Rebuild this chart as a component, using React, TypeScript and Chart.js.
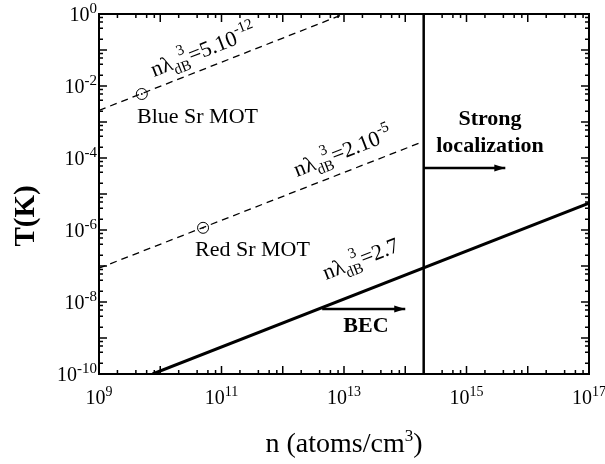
import React, { useEffect, useRef } from "react";
import { Chart, registerables } from "chart.js";

Chart.register(...registerables);

// ---------- data ----------
const X_MIN = 1e9;
const X_MAX = 1e17;
const Y_MIN = 1e-10;
const Y_MAX = 1;

const xTickExponents = [9, 11, 13, 15, 17];
const yTickExponents = [0, -2, -4, -6, -8, -10];
const xDecades = [9, 10, 11, 12, 13, 14, 15, 16, 17];
const yDecades = [-10, -9, -8, -7, -6, -5, -4, -3, -2, -1, 0];
const minorMultipliers = [2, 4, 6, 8];

// nλ³ = 5·10⁻¹² (dashed)
const blueMotLine = [
  { x: 1e9, y: 2.1e-3 },
  { x: 1e13, y: 1.0 },
];
// nλ³ = 2·10⁻⁵ (dashed)
const redMotLine = [
  { x: 1e9, y: 8.7e-8 },
  { x: 2e14, y: 2.9e-4 },
];
// nλ³ = 2.7 (solid)
const becLine = [
  { x: 7.5e9, y: 1e-10 },
  { x: 1e17, y: 5.6e-6 },
];
// strong localization threshold
const localizationLine = [
  { x: 2e14, y: 1e-10 },
  { x: 2e14, y: 1 },
];
const motPoints = [
  { x: 5e9, y: 6e-3 },
  { x: 5e10, y: 1.15e-6 },
];
const localizationArrow = [
  { x: 2e14, y: 5.3e-5 },
  { x: 4.3e15, y: 5.3e-5 },
];
const becArrow = [
  { x: 4.4e12, y: 6.4e-9 },
  { x: 1e14, y: 6.4e-9 },
];

const pointLabels = ["Blue Sr MOT", "Red Sr MOT"];
const pointLabelAnchors = [
  { x: 10 ** 9.62, y: 10 ** -3.03 },
  { x: 10 ** 10.567, y: 10 ** -6.72 },
];
const lineLabelValues = ["5.10", "2.10", "2.7"];
const lineLabelExponents = ["-12", "-5", ""];
const lineLabelAnchors = [
  { x: 10 ** 9.898, y: 10 ** -1.75 },
  { x: 10 ** 12.233, y: 10 ** -4.528 },
  { x: 10 ** 12.706, y: 10 ** -7.389 },
];
const regionLabels = ["Strong", "localization", "BEC"];
const regionLabelAnchors = [
  { x: 10 ** 15.384, y: 10 ** -3.083 },
  { x: 10 ** 15.384, y: 10 ** -3.833 },
  { x: 10 ** 13.359, y: 10 ** -8.833 },
];

const SERIF = '"Liberation Serif", "Times New Roman", serif';

function drawPow(
  ctx: CanvasRenderingContext2D,
  x: number,
  y: number,
  exp: number,
  align: "center" | "right",
  baseSize: number,
  expSize: number,
  rise: number
) {
  const es = String(exp);
  ctx.font = `${baseSize}px ${SERIF}`;
  const bw = ctx.measureText("10").width;
  ctx.font = `${expSize}px ${SERIF}`;
  const ew = ctx.measureText(es).width;
  const total = bw + ew;
  const sx = align === "center" ? x - total / 2 : x - total;
  ctx.textAlign = "left";
  ctx.textBaseline = "alphabetic";
  ctx.font = `${baseSize}px ${SERIF}`;
  ctx.fillText("10", sx, y);
  ctx.font = `${expSize}px ${SERIF}`;
  ctx.fillText(es, sx + bw, y - rise);
}

function drawDbLabel(
  ctx: CanvasRenderingContext2D,
  x: number,
  y: number,
  angle: number,
  value: string,
  exp: string
) {
  const big = `22px ${SERIF}`;
  const small = `15px ${SERIF}`;
  ctx.save();
  ctx.translate(x, y);
  ctx.rotate(angle);
  ctx.textAlign = "left";
  ctx.textBaseline = "alphabetic";
  ctx.fillStyle = "#000";
  let cx = 0;
  ctx.font = big;
  ctx.fillText("nλ", cx, 0);
  cx += ctx.measureText("nλ").width;
  ctx.font = small;
  const dbw = ctx.measureText("dB").width;
  ctx.fillText("dB", cx, 6);
  ctx.fillText("3", cx + dbw * 0.5, -11);
  cx += dbw + 1;
  ctx.font = big;
  const vt = "=" + value;
  ctx.fillText(vt, cx, 0);
  cx += ctx.measureText(vt).width;
  if (exp) {
    ctx.font = small;
    ctx.fillText(exp, cx, -10);
  }
  ctx.restore();
}

const framePlugin = {
  id: "framePlugin",
  afterDraw(chart: any) {
    const ctx: CanvasRenderingContext2D = chart.ctx;
    const { left, right, top, bottom } = chart.chartArea;
    const xs = chart.scales.x;
    const ys = chart.scales.y;
    ctx.save();
    ctx.strokeStyle = "#000";
    ctx.fillStyle = "#000";

    // ticks
    ctx.lineWidth = 1.5;
    ctx.beginPath();
    xDecades.forEach((k) => {
      const px = xs.getPixelForValue(10 ** k);
      ctx.moveTo(px, bottom);
      ctx.lineTo(px, bottom - 8);
      ctx.moveTo(px, top);
      ctx.lineTo(px, top + 8);
      if (k < 17) {
        minorMultipliers.forEach((m) => {
          const mx = xs.getPixelForValue(m * 10 ** k);
          ctx.moveTo(mx, bottom);
          ctx.lineTo(mx, bottom - 4);
          ctx.moveTo(mx, top);
          ctx.lineTo(mx, top + 4);
        });
      }
    });
    yDecades.forEach((k) => {
      const py = ys.getPixelForValue(10 ** k);
      ctx.moveTo(left, py);
      ctx.lineTo(left + 8, py);
      ctx.moveTo(right, py);
      ctx.lineTo(right - 8, py);
      if (k < 0) {
        minorMultipliers.forEach((m) => {
          const my = ys.getPixelForValue(m * 10 ** k);
          ctx.moveTo(left, my);
          ctx.lineTo(left + 4, my);
          ctx.moveTo(right, my);
          ctx.lineTo(right - 4, my);
        });
      }
    });
    ctx.stroke();

    // frame
    ctx.lineWidth = 2;
    ctx.strokeRect(left, top, right - left, bottom - top);

    // tick labels
    xTickExponents.forEach((e) => {
      const px = xs.getPixelForValue(10 ** e);
      drawPow(ctx, px, bottom + 30, e, "center", 20, 14, 8);
    });
    yTickExponents.forEach((e) => {
      const py = ys.getPixelForValue(10 ** e);
      drawPow(ctx, left - 2, py + 7, e, "right", 20, 15, 8);
    });

    // axis titles
    ctx.textBaseline = "alphabetic";
    ctx.textAlign = "left";
    const cxMid = (left + right) / 2;
    const t1 = "n (atoms/cm";
    ctx.font = `28px ${SERIF}`;
    const w1 = ctx.measureText(t1).width;
    ctx.font = `17px ${SERIF}`;
    const w2 = ctx.measureText("3").width;
    ctx.font = `28px ${SERIF}`;
    const w3 = ctx.measureText(")").width;
    const sx = cxMid - (w1 + w2 + w3) / 2;
    ctx.fillText(t1, sx, bottom + 78);
    ctx.font = `17px ${SERIF}`;
    ctx.fillText("3", sx + w1, bottom + 67);
    ctx.font = `28px ${SERIF}`;
    ctx.fillText(")", sx + w1 + w2, bottom + 78);

    ctx.save();
    ctx.translate(34, (top + bottom) / 2 + 22);
    ctx.rotate(-Math.PI / 2);
    ctx.textAlign = "center";
    ctx.font = `bold 29px ${SERIF}`;
    ctx.fillText("T(K)", 0, 0);
    ctx.restore();

    // rotated line labels
    const ax = xs.getPixelForValue(1e10);
    const bx = xs.getPixelForValue(1e13);
    const ay = ys.getPixelForValue(1e-10);
    const by = ys.getPixelForValue(1e-8);
    const angle = Math.atan2(by - ay, bx - ax);
    lineLabelAnchors.forEach((a, i) => {
      drawDbLabel(
        ctx,
        xs.getPixelForValue(a.x),
        ys.getPixelForValue(a.y),
        angle,
        lineLabelValues[i],
        lineLabelExponents[i]
      );
    });

    // point labels
    ctx.textAlign = "left";
    ctx.font = `22px ${SERIF}`;
    pointLabels.forEach((t, i) => {
      const a = pointLabelAnchors[i];
      ctx.fillText(t, xs.getPixelForValue(a.x), ys.getPixelForValue(a.y));
    });

    // region labels
    ctx.textAlign = "center";
    ctx.font = `bold 22px ${SERIF}`;
    regionLabels.forEach((t, i) => {
      const a = regionLabelAnchors[i];
      ctx.fillText(t, xs.getPixelForValue(a.x), ys.getPixelForValue(a.y));
    });

    // arrow heads
    [localizationArrow, becArrow].forEach((arr) => {
      const tip = arr[arr.length - 1];
      const tx = xs.getPixelForValue(tip.x);
      const ty = ys.getPixelForValue(tip.y);
      ctx.beginPath();
      ctx.moveTo(tx, ty);
      ctx.lineTo(tx - 11, ty - 3.5);
      ctx.lineTo(tx - 11, ty + 3.5);
      ctx.closePath();
      ctx.fill();
    });

    ctx.restore();
  },
};

export default function App() {
  const canvasRef = useRef<HTMLCanvasElement | null>(null);

  useEffect(() => {
    const canvas = canvasRef.current;
    if (!canvas) return;
    const lineDs = (data: any[], width: number, dash: number[] = []) => ({
      type: "line" as const,
      data,
      borderColor: "#000",
      borderWidth: width,
      borderDash: dash,
      pointRadius: 0,
      fill: false,
      tension: 0,
    });
    const chart = new Chart(canvas, {
      type: "line",
      data: {
        datasets: [
          lineDs(blueMotLine, 1.3, [7, 5]),
          lineDs(redMotLine, 1.3, [7, 5]),
          lineDs(becLine, 3),
          lineDs(localizationLine, 2.5),
          lineDs(localizationArrow, 2.5),
          lineDs(becArrow, 2.5),
          {
            type: "line" as const,
            data: motPoints,
            showLine: false,
            pointRadius: 5.5,
            pointBorderWidth: 1,
            pointBorderColor: "#000",
            pointBackgroundColor: "rgba(255,255,255,0)",
          },
          {
            type: "line" as const,
            data: motPoints,
            showLine: false,
            pointRadius: 0.9,
            pointBorderWidth: 0,
            pointBackgroundColor: "#000",
          },
        ] as any,
      },
      options: {
        responsive: false,
        animation: false,
        devicePixelRatio: 1,
        parsing: false as any,
        layout: { padding: { left: 99, right: 16, top: 14, bottom: 90 } },
        plugins: {
          legend: { display: false },
          tooltip: { enabled: false },
        },
        scales: {
          x: { type: "logarithmic", min: X_MIN, max: X_MAX, display: false },
          y: { type: "logarithmic", min: Y_MIN, max: Y_MAX, display: false },
        },
      },
      plugins: [framePlugin],
    });
    return () => chart.destroy();
  }, []);

  return (
    <div style={{ position: "fixed", left: 0, top: 0, width: 605, height: 464, background: "#fff" }}>
      <canvas ref={canvasRef} width={605} height={464} style={{ width: 605, height: 464 }} />
    </div>
  );
}
